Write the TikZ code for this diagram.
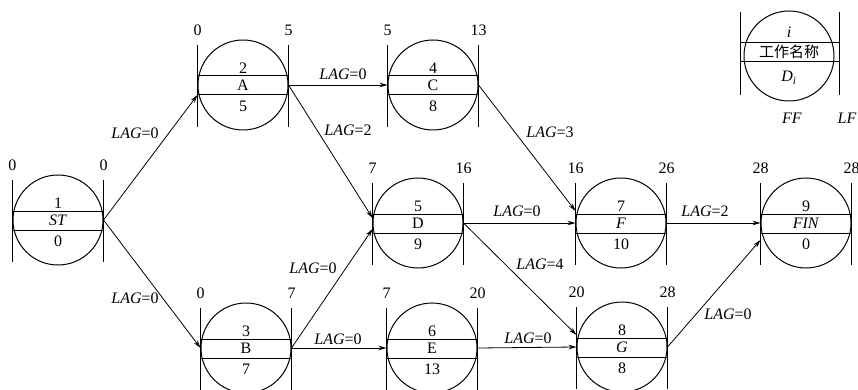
\documentclass[tikz,border=0pt]{standalone}
\usepackage{fontspec}
\setmainfont{Liberation Serif}
\newfontfamily\cjk{Noto Sans CJK SC}
\usetikzlibrary{arrows.meta,calc}
\tikzset{
  actc/.style={circle,draw,line width=1pt,minimum size=90pt,inner sep=0pt},
  ln/.style={line width=1pt},
  txt/.style={inner sep=0pt,font=\fontsize{16}{18}\selectfont},
  lag/.style={inner sep=0pt,font=\fontsize{16}{18}\selectfont},
  conn/.style={line width=0.8pt,-{Stealth[length=8pt,width=4.5pt]}}
}
\newcommand{\actnode}[8]{%
  \node[actc] (#1) at (#2,#3) {};
  \draw[ln] ([yshift=40pt]#1.west) -- ([yshift=-42pt]#1.west);
  \draw[ln] ([yshift=40pt]#1.east) -- ([yshift=-42pt]#1.east);
  \draw[ln] ([yshift=9pt]#1.west) -- ([yshift=9pt]#1.east);
  \draw[ln] ([yshift=-10pt]#1.west) -- ([yshift=-10pt]#1.east);
  \node[txt] at ([yshift=17pt]#1.center) {#4};
  \node[txt] at ([yshift=-0.5pt]#1.center) {#5};
  \node[txt] at ([yshift=-21pt]#1.center) {#6};
  \node[txt] at ([yshift=55pt]#1.west) {#7};
  \node[txt] at ([yshift=55pt]#1.east) {#8};
}
\begin{document}
\begin{tikzpicture}[x=1pt,y=-1pt]
\useasboundingbox (0,0) rectangle (858,390);
% activity nodes
\actnode{ST}{58}{220}{1}{\textit{ST}}{0}{0}{0}
\actnode{A}{243}{85}{2}{A}{5}{0}{5}
\actnode{C}{433}{85}{4}{C}{8}{5}{13}
\actnode{B}{246}{348}{3}{B}{7}{0}{7}
\actnode{D}{418}{223}{5}{D}{9}{7}{16}
\actnode{E}{432}{348}{6}{E}{13}{7}{20}
\actnode{F}{621}{223}{7}{\textit{F}}{10}{16}{26}
\actnode{G}{622}{347}{8}{\textit{G}}{8}{20}{28}
\actnode{FIN}{806}{223}{9}{\textit{FIN}}{0}{28}{28}
% connectors
\draw[conn] (ST.east) -- ([yshift=-10pt]A.west);
\draw[conn] (ST.east) -- (B.west);
\draw[conn] (A.east) -- (C.west);
\draw[conn] (A.east) -- ([yshift=5pt]D.west);
\draw[conn] (C.east) -- ([yshift=12pt]F.west);
\draw[conn] (B.east) -- ([yshift=-6pt]D.west);
\draw[conn] (B.east) -- (E.west);
\draw[conn] (D.east) -- (F.west);
\draw[conn] (D.east) -- ([yshift=12pt]G.west);
\draw[conn] (E.east) -- (G.west);
\draw[conn] (F.east) -- (FIN.west);
\draw[conn] (G.east) -- ([yshift=-17pt]FIN.west);
% lag labels
\node[lag] at (135,133) {\textit{LAG}=0};
\node[lag] at (135,298) {\textit{LAG}=0};
\node[lag] at (343,74) {\textit{LAG}=0};
\node[lag] at (348,130) {\textit{LAG}=2};
\node[lag] at (550,132) {\textit{LAG}=3};
\node[lag] at (313,268) {\textit{LAG}=0};
\node[lag] at (338,339) {\textit{LAG}=0};
\node[lag] at (517,211) {\textit{LAG}=0};
\node[lag] at (540,264) {\textit{LAG}=4};
\node[lag] at (528,338) {\textit{LAG}=0};
\node[lag] at (705,211) {\textit{LAG}=2};
\node[lag] at (728,314) {\textit{LAG}=0};
% legend
\node[circle,draw,line width=1pt,minimum size=90pt,inner sep=0pt] (leg) at (789,56) {};
\draw[ln] (740,12) -- (740,95);
\draw[ln] (839,12) -- (839,95);
\draw[ln] (740,43) -- (839,43);
\draw[ln] (740,62) -- (839,62);
\node[txt] at (789,32) {\textit{i}};
\node[txt] at (789,52) {\cjk\fontsize{15}{17}\selectfont 工作名称};
\node[txt] at (789,78) {\textit{D}\textsubscript{\textit{i}}};
\node[txt] at (792,118) {\textit{FF}};
\node[txt] at (847,118) {\textit{LF}};
\end{tikzpicture}
\end{document}
